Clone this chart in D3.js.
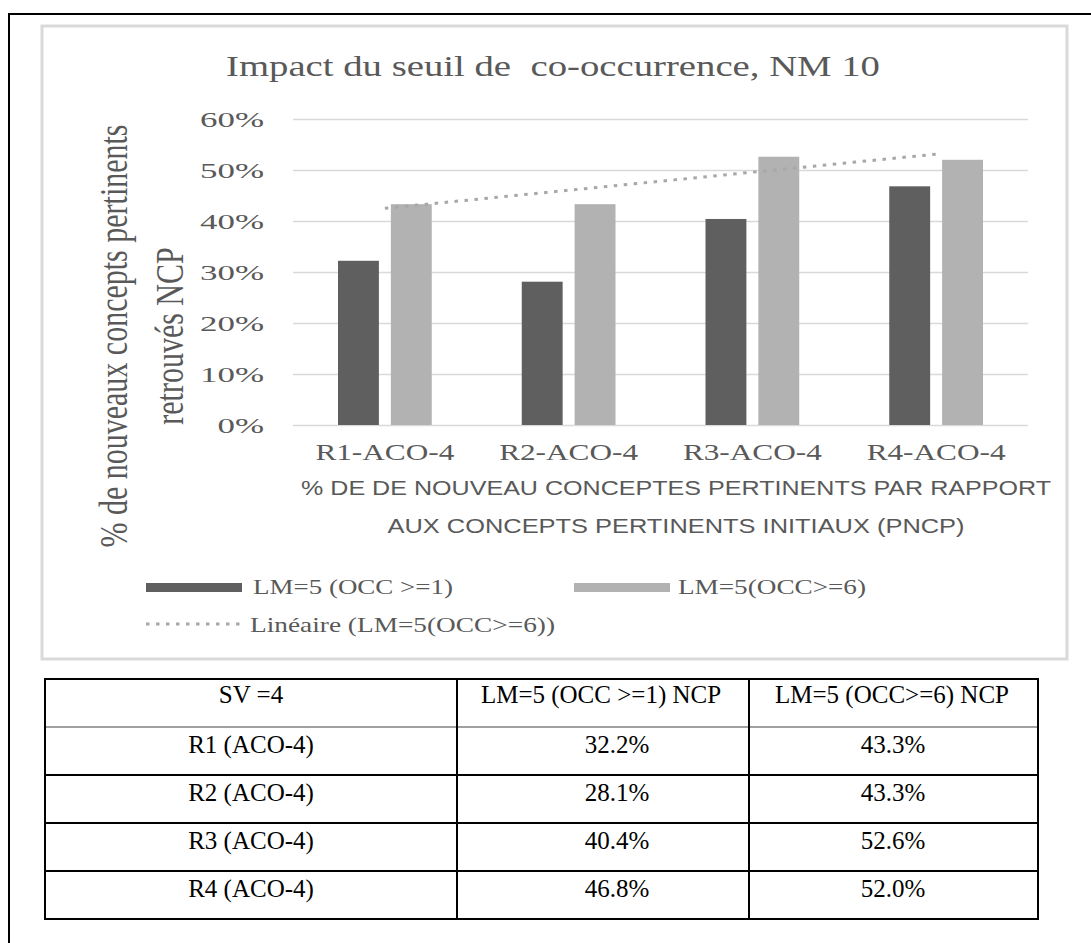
<!DOCTYPE html>
<html>
<head>
<meta charset="utf-8">
<script src="https://cdn.jsdelivr.net/npm/d3@7/dist/d3.min.js"></script>
<style>
  html, body { margin: 0; padding: 0; background: #fff; }
  svg { display: block; }
</style>
</head>
<body>
<svg id="chart" width="1091" height="943"></svg>
<script>
// ---------------- DATA ----------------
const chartTitle = "Impact du seuil de  co-occurrence, NM 10";
const categories = ["R1-ACO-4", "R2-ACO-4", "R3-ACO-4", "R4-ACO-4"];
const seriesNames = ["LM=5 (OCC >=1)", "LM=5(OCC>=6)"];
const seriesOcc1 = [0.322, 0.281, 0.404, 0.468];
const seriesOcc6 = [0.433, 0.433, 0.526, 0.520];
const trendName = "Linéaire (LM=5(OCC>=6))";
const yTicks = [0, 0.1, 0.2, 0.3, 0.4, 0.5, 0.6];
const yTitleLines = ["% de nouveaux concepts pertinents", "retrouvés NCP"];
const xTitleLines = ["% DE DE NOUVEAU CONCEPTES PERTINENTS PAR RAPPORT", "AUX CONCEPTS PERTINENTS INITIAUX (PNCP)"];
const tableHeader = ["SV =4", "LM=5 (OCC >=1) NCP", "LM=5 (OCC>=6) NCP"];
const tableRows = ["R1 (ACO-4)", "R2 (ACO-4)", "R3 (ACO-4)", "R4 (ACO-4)"];
const tableCol1 = ["32.2%", "28.1%", "40.4%", "46.8%"];
const tableCol2 = ["43.3%", "43.3%", "52.6%", "52.0%"];

// ---------------- STYLE ----------------
const colors = ["#5f5f5f", "#b2b2b2"];
const trendColor = "#a8a8a8";
const textGray = "#595959";
const serif = "'Liberation Serif', 'Times New Roman', serif";
const sans = "'Liberation Sans', Arial, sans-serif";

const svg = d3.select("#chart");

// outer black frame
svg.append("path")
  .attr("d", "M9,943 L9,14 L1091,14")
  .attr("fill", "none").attr("stroke", "#000").attr("stroke-width", 2);

// chart area border
svg.append("rect")
  .attr("x", 42).attr("y", 26).attr("width", 1025).attr("height", 633)
  .attr("fill", "#fff").attr("stroke", "#d9d9d9").attr("stroke-width", 3);

// title
svg.append("text")
  .attr("x", 226).attr("y", 76)
  .attr("font-family", serif).attr("font-size", 30).attr("fill", textGray)
  .attr("textLength", 654).attr("lengthAdjust", "spacingAndGlyphs")
  .style("white-space", "pre")
  .text(chartTitle);

// scales
const plotLeft = 293, plotRight = 1028;
const x = d3.scaleBand().domain(categories).range([plotLeft, plotRight]).paddingInner(0).paddingOuter(0);
const xSub = d3.scaleBand().domain([0, 1]).range([45, x.bandwidth() - 45]).paddingInner(12 / 53).paddingOuter(0);
const y = d3.scaleLinear().domain([0, 0.6]).range([425, 119]);

// y axis with gridlines
const yAxis = svg.append("g")
  .attr("transform", `translate(${plotLeft},0)`)
  .call(d3.axisLeft(y).tickValues(yTicks).tickFormat(d3.format(".0%"))
    .tickSize(-(plotRight - plotLeft)).tickPadding(29));
yAxis.select(".domain").remove();
yAxis.selectAll(".tick line").attr("stroke", "#d9d9d9").attr("stroke-width", 1.3);
yAxis.selectAll(".tick text")
  .attr("font-family", serif).attr("font-size", 22).attr("fill", textGray)
  .attr("textLength", function () { const n = this.textContent.length; return 17.5 * (n - 1) + 29; })
  .attr("lengthAdjust", "spacingAndGlyphs");

// bars
const allSeries = [seriesOcc1, seriesOcc6];
const groups = svg.append("g").selectAll("g")
  .data(categories).join("g")
  .attr("transform", d => `translate(${x(d)},0)`);
groups.selectAll("rect")
  .data((d, i) => allSeries.map((s, k) => ({ k, v: s[i] })))
  .join("rect")
  .attr("x", d => xSub(d.k))
  .attr("width", xSub.bandwidth())
  .attr("y", d => y(d.v))
  .attr("height", d => y(0) - y(d.v))
  .attr("fill", d => colors[d.k]);

// category labels
svg.append("g").selectAll("text")
  .data(categories).join("text")
  .attr("x", d => x(d) + x.bandwidth() / 2)
  .attr("y", 460)
  .attr("text-anchor", "middle")
  .attr("font-family", serif).attr("font-size", 24).attr("fill", textGray)
  .attr("textLength", 139).attr("lengthAdjust", "spacingAndGlyphs")
  .text(d => d);

// linear trendline (least squares on series 2, as Excel)
const n = seriesOcc6.length;
const xs = d3.range(1, n + 1);
const mx = d3.mean(xs), my = d3.mean(seriesOcc6);
const slope = d3.sum(xs.map((xi, i) => (xi - mx) * (seriesOcc6[i] - my))) / d3.sum(xs.map(xi => (xi - mx) ** 2));
const icpt = my - slope * mx;
const trendPts = [0, n - 1].map(i => [x(categories[i]) + x.bandwidth() / 2, y(icpt + slope * (i + 1))]);
svg.append("path")
  .attr("d", d3.line()(trendPts))
  .attr("fill", "none").attr("stroke", trendColor).attr("stroke-width", 3)
  .attr("stroke-dasharray", "3.5 6.5");

// x axis title
const xTitleY = [495, 533];
const xTitleW = [750, 577];
svg.append("g").selectAll("text")
  .data(xTitleLines).join("text")
  .attr("x", 676).attr("y", (d, i) => xTitleY[i])
  .attr("text-anchor", "middle")
  .attr("font-family", sans).attr("font-size", 21).attr("fill", textGray)
  .attr("textLength", (d, i) => xTitleW[i]).attr("lengthAdjust", "spacingAndGlyphs")
  .text(d => d);

// y axis title (rotated, stretched horizontally)
const yt = svg.append("g").attr("transform", "translate(127,336) scale(1.3,1) rotate(-90)");
yt.selectAll("text")
  .data(yTitleLines).join("text")
  .attr("x", 0).attr("y", (d, i) => i * 43)
  .attr("text-anchor", "middle")
  .attr("font-family", serif).attr("font-size", 30).attr("fill", textGray)
  .text(d => d);

// legend
const legendItems = [
  { type: "rect", color: colors[0], sx: 146, sy: 583, tx: 253, ty: 594, tw: 200, label: seriesNames[0] },
  { type: "rect", color: colors[1], sx: 574, sy: 583, tx: 678, ty: 594, tw: 188, label: seriesNames[1] },
  { type: "line", color: trendColor, sx: 146, sy: 624, tx: 250, ty: 632, tw: 305, label: trendName }
];
const lg = svg.append("g");
legendItems.forEach(it => {
  if (it.type === "rect") {
    lg.append("rect").attr("x", it.sx).attr("y", it.sy).attr("width", 96).attr("height", 9).attr("fill", it.color);
  } else {
    lg.append("line").attr("x1", it.sx).attr("x2", it.sx + 96).attr("y1", it.sy).attr("y2", it.sy)
      .attr("stroke", it.color).attr("stroke-width", 3).attr("stroke-dasharray", "3.5 6.5");
  }
  lg.append("text").attr("x", it.tx).attr("y", it.ty)
    .attr("font-family", serif).attr("font-size", 21).attr("fill", textGray)
    .attr("textLength", it.tw).attr("lengthAdjust", "spacingAndGlyphs")
    .text(it.label);
});

// ---------------- TABLE ----------------
const tLeft = 45, tRight = 1038, tTop = 679, rowH = 48;
const colX = [tLeft, 457, 749, tRight];
const nRows = tableRows.length + 1;
const tBottom = tTop + rowH * nRows;
const tg = svg.append("g");
// horizontal lines
d3.range(nRows + 1).forEach(r => {
  const yy = tTop + r * rowH;
  tg.append("line").attr("x1", tLeft - 1).attr("x2", tRight + 1).attr("y1", yy).attr("y2", yy)
    .attr("stroke", r === 1 ? "#808080" : "#000").attr("stroke-width", r === 1 ? 1.5 : 2);
});
// vertical lines
colX.forEach(cx => {
  tg.append("line").attr("x1", cx).attr("x2", cx).attr("y1", tTop).attr("y2", tBottom)
    .attr("stroke", "#000").attr("stroke-width", 2);
});
const headerCenters = [251, 601, 892];
const valueCenters = [251, 617, 893];
tg.selectAll("text.h").data(tableHeader).join("text").attr("class", "h")
  .attr("x", (d, i) => headerCenters[i]).attr("y", tTop + 24)
  .attr("text-anchor", "middle").attr("font-family", serif).attr("font-size", 25).attr("fill", "#000")
  .text(d => d);
const bodyRows = tableRows.map((r, i) => [r, tableCol1[i], tableCol2[i]]);
bodyRows.forEach((row, ri) => {
  row.forEach((cell, ci) => {
    tg.append("text")
      .attr("x", valueCenters[ci]).attr("y", tTop + rowH * (ri + 1) + 26)
      .attr("text-anchor", "middle").attr("font-family", serif).attr("font-size", 25).attr("fill", "#000")
      .text(cell);
  });
});
</script>
</body>
</html>
